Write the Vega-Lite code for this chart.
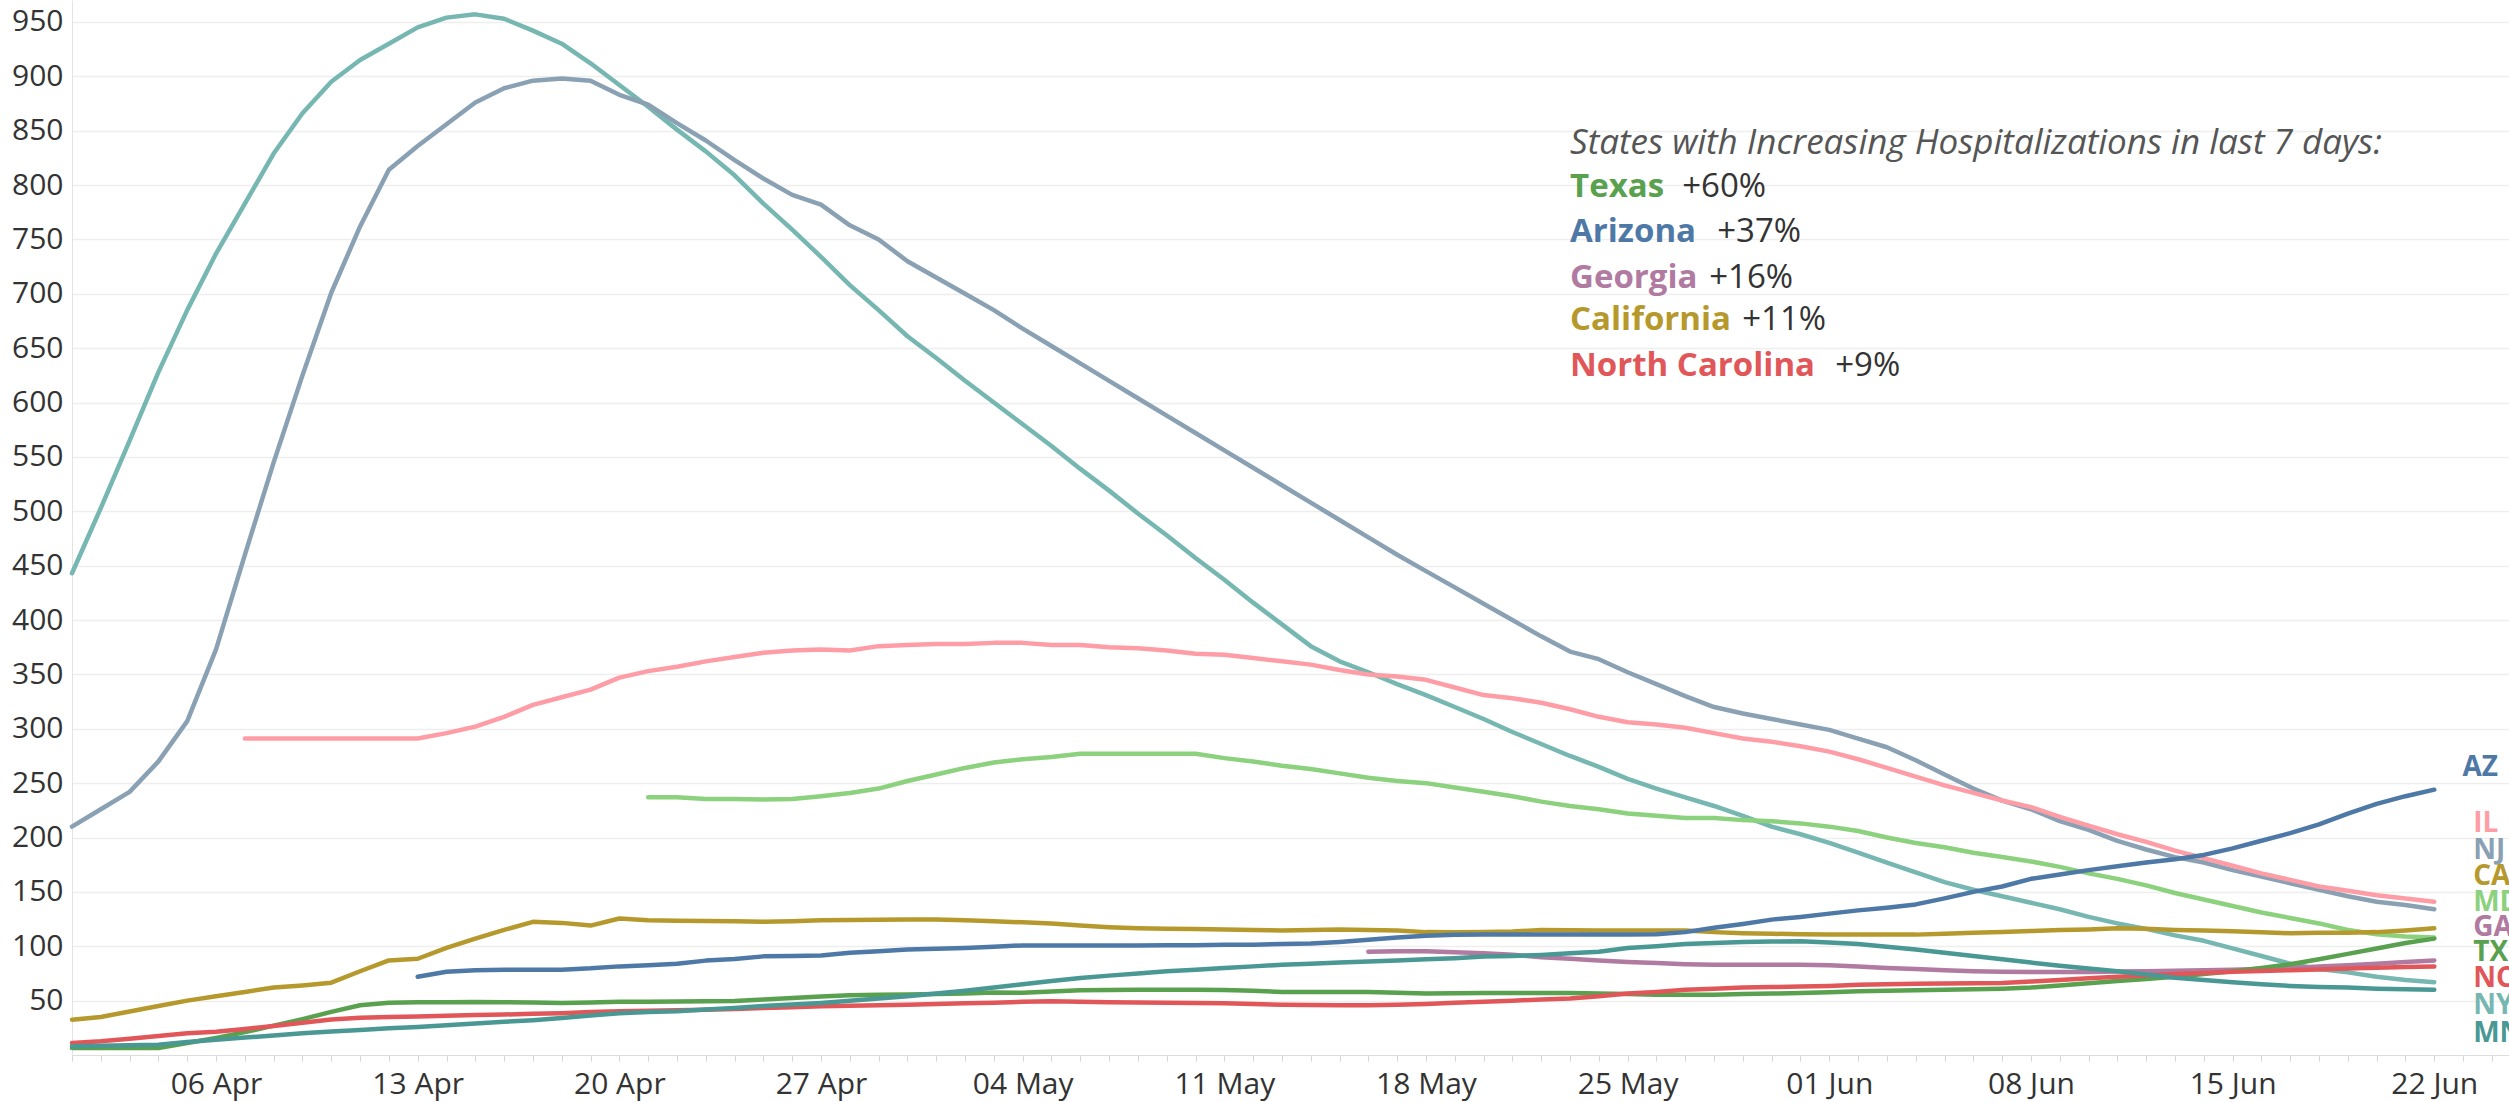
{
"$schema": "https://vega.github.io/schema/vega-lite/v6.json",
"width": 2437, "height": 1055,
"autosize": {"type": "none"},
"padding": {"left": 72, "top": 0, "right": 0, "bottom": 47},
"background": "white",
"config": {"view": {"stroke": null}, "font": "Open Sans"},
"datasets": {
"series": [
{"s":"NY","d":"2020/04/01","v":443},{"s":"NY","d":"2020/04/02","v":503},{"s":"NY","d":"2020/04/03","v":565},{"s":"NY","d":"2020/04/04","v":628},{"s":"NY","d":"2020/04/05","v":685},{"s":"NY","d":"2020/04/06","v":737},{"s":"NY","d":"2020/04/07","v":783},{"s":"NY","d":"2020/04/08","v":829},{"s":"NY","d":"2020/04/09","v":866},{"s":"NY","d":"2020/04/10","v":895},{"s":"NY","d":"2020/04/11","v":915},{"s":"NY","d":"2020/04/12","v":930},{"s":"NY","d":"2020/04/13","v":945},{"s":"NY","d":"2020/04/14","v":954},{"s":"NY","d":"2020/04/15","v":957},{"s":"NY","d":"2020/04/16","v":953},{"s":"NY","d":"2020/04/17","v":942},{"s":"NY","d":"2020/04/18","v":930},{"s":"NY","d":"2020/04/19","v":912},{"s":"NY","d":"2020/04/20","v":892},{"s":"NY","d":"2020/04/21","v":872},{"s":"NY","d":"2020/04/22","v":851},{"s":"NY","d":"2020/04/23","v":831},{"s":"NY","d":"2020/04/24","v":809},{"s":"NY","d":"2020/04/25","v":783},{"s":"NY","d":"2020/04/26","v":759},{"s":"NY","d":"2020/04/27","v":734},{"s":"NY","d":"2020/04/28","v":708},{"s":"NY","d":"2020/04/29","v":685},{"s":"NY","d":"2020/04/30","v":661},{"s":"NY","d":"2020/05/01","v":641},{"s":"NY","d":"2020/05/02","v":620},{"s":"NY","d":"2020/05/03","v":600},{"s":"NY","d":"2020/05/04","v":580},{"s":"NY","d":"2020/05/05","v":560},{"s":"NY","d":"2020/05/06","v":539},{"s":"NY","d":"2020/05/07","v":519},{"s":"NY","d":"2020/05/08","v":498},{"s":"NY","d":"2020/05/09","v":478},{"s":"NY","d":"2020/05/10","v":457},{"s":"NY","d":"2020/05/11","v":437},{"s":"NY","d":"2020/05/12","v":416},{"s":"NY","d":"2020/05/13","v":396},{"s":"NY","d":"2020/05/14","v":376},{"s":"NY","d":"2020/05/15","v":362},{"s":"NY","d":"2020/05/16","v":352},{"s":"NY","d":"2020/05/17","v":341},{"s":"NY","d":"2020/05/18","v":331},{"s":"NY","d":"2020/05/19","v":320},{"s":"NY","d":"2020/05/20","v":309},{"s":"NY","d":"2020/05/21","v":297},{"s":"NY","d":"2020/05/22","v":286},{"s":"NY","d":"2020/05/23","v":275},{"s":"NY","d":"2020/05/24","v":265},{"s":"NY","d":"2020/05/25","v":254},{"s":"NY","d":"2020/05/26","v":245},{"s":"NY","d":"2020/05/27","v":237},{"s":"NY","d":"2020/05/28","v":229},{"s":"NY","d":"2020/05/29","v":220},{"s":"NY","d":"2020/05/30","v":210},{"s":"NY","d":"2020/05/31","v":203},{"s":"NY","d":"2020/06/01","v":195},{"s":"NY","d":"2020/06/02","v":186},{"s":"NY","d":"2020/06/03","v":177},{"s":"NY","d":"2020/06/04","v":168},{"s":"NY","d":"2020/06/05","v":159},{"s":"NY","d":"2020/06/06","v":152},{"s":"NY","d":"2020/06/07","v":146},{"s":"NY","d":"2020/06/08","v":140},{"s":"NY","d":"2020/06/09","v":134},{"s":"NY","d":"2020/06/10","v":127},{"s":"NY","d":"2020/06/11","v":121},{"s":"NY","d":"2020/06/12","v":116},{"s":"NY","d":"2020/06/13","v":110},{"s":"NY","d":"2020/06/14","v":105},{"s":"NY","d":"2020/06/15","v":98},{"s":"NY","d":"2020/06/16","v":91},{"s":"NY","d":"2020/06/17","v":84},{"s":"NY","d":"2020/06/18","v":79},{"s":"NY","d":"2020/06/19","v":76},{"s":"NY","d":"2020/06/20","v":72},{"s":"NY","d":"2020/06/21","v":69},{"s":"NY","d":"2020/06/22","v":67},
{"s":"NJ","d":"2020/04/01","v":210},{"s":"NJ","d":"2020/04/02","v":226},{"s":"NJ","d":"2020/04/03","v":242},{"s":"NJ","d":"2020/04/04","v":270},{"s":"NJ","d":"2020/04/05","v":307},{"s":"NJ","d":"2020/04/06","v":373},{"s":"NJ","d":"2020/04/07","v":460},{"s":"NJ","d":"2020/04/08","v":545},{"s":"NJ","d":"2020/04/09","v":625},{"s":"NJ","d":"2020/04/10","v":701},{"s":"NJ","d":"2020/04/11","v":762},{"s":"NJ","d":"2020/04/12","v":814},{"s":"NJ","d":"2020/04/13","v":836},{"s":"NJ","d":"2020/04/14","v":856},{"s":"NJ","d":"2020/04/15","v":876},{"s":"NJ","d":"2020/04/16","v":889},{"s":"NJ","d":"2020/04/17","v":896},{"s":"NJ","d":"2020/04/18","v":898},{"s":"NJ","d":"2020/04/19","v":896},{"s":"NJ","d":"2020/04/20","v":883},{"s":"NJ","d":"2020/04/21","v":874},{"s":"NJ","d":"2020/04/22","v":857},{"s":"NJ","d":"2020/04/23","v":841},{"s":"NJ","d":"2020/04/24","v":823},{"s":"NJ","d":"2020/04/25","v":806},{"s":"NJ","d":"2020/04/26","v":791},{"s":"NJ","d":"2020/04/27","v":782},{"s":"NJ","d":"2020/04/28","v":763},{"s":"NJ","d":"2020/04/29","v":750},{"s":"NJ","d":"2020/04/30","v":730},{"s":"NJ","d":"2020/05/01","v":715},{"s":"NJ","d":"2020/05/02","v":700},{"s":"NJ","d":"2020/05/03","v":685},{"s":"NJ","d":"2020/05/04","v":668},{"s":"NJ","d":"2020/05/05","v":652},{"s":"NJ","d":"2020/05/06","v":636},{"s":"NJ","d":"2020/05/07","v":620},{"s":"NJ","d":"2020/05/08","v":604},{"s":"NJ","d":"2020/05/09","v":588},{"s":"NJ","d":"2020/05/10","v":572},{"s":"NJ","d":"2020/05/11","v":556},{"s":"NJ","d":"2020/05/12","v":540},{"s":"NJ","d":"2020/05/13","v":524},{"s":"NJ","d":"2020/05/14","v":508},{"s":"NJ","d":"2020/05/15","v":492},{"s":"NJ","d":"2020/05/16","v":476},{"s":"NJ","d":"2020/05/17","v":460},{"s":"NJ","d":"2020/05/18","v":445},{"s":"NJ","d":"2020/05/19","v":430},{"s":"NJ","d":"2020/05/20","v":415},{"s":"NJ","d":"2020/05/21","v":400},{"s":"NJ","d":"2020/05/22","v":385},{"s":"NJ","d":"2020/05/23","v":371},{"s":"NJ","d":"2020/05/24","v":364},{"s":"NJ","d":"2020/05/25","v":352},{"s":"NJ","d":"2020/05/26","v":341},{"s":"NJ","d":"2020/05/27","v":330},{"s":"NJ","d":"2020/05/28","v":320},{"s":"NJ","d":"2020/05/29","v":314},{"s":"NJ","d":"2020/05/30","v":309},{"s":"NJ","d":"2020/05/31","v":304},{"s":"NJ","d":"2020/06/01","v":299},{"s":"NJ","d":"2020/06/02","v":291},{"s":"NJ","d":"2020/06/03","v":283},{"s":"NJ","d":"2020/06/04","v":271},{"s":"NJ","d":"2020/06/05","v":258},{"s":"NJ","d":"2020/06/06","v":245},{"s":"NJ","d":"2020/06/07","v":234},{"s":"NJ","d":"2020/06/08","v":226},{"s":"NJ","d":"2020/06/09","v":215},{"s":"NJ","d":"2020/06/10","v":207},{"s":"NJ","d":"2020/06/11","v":197},{"s":"NJ","d":"2020/06/12","v":189},{"s":"NJ","d":"2020/06/13","v":182},{"s":"NJ","d":"2020/06/14","v":177},{"s":"NJ","d":"2020/06/15","v":170},{"s":"NJ","d":"2020/06/16","v":164},{"s":"NJ","d":"2020/06/17","v":158},{"s":"NJ","d":"2020/06/18","v":152},{"s":"NJ","d":"2020/06/19","v":146},{"s":"NJ","d":"2020/06/20","v":141},{"s":"NJ","d":"2020/06/21","v":138},{"s":"NJ","d":"2020/06/22","v":134},
{"s":"IL","d":"2020/04/07","v":291},{"s":"IL","d":"2020/04/08","v":291},{"s":"IL","d":"2020/04/09","v":291},{"s":"IL","d":"2020/04/10","v":291},{"s":"IL","d":"2020/04/11","v":291},{"s":"IL","d":"2020/04/12","v":291},{"s":"IL","d":"2020/04/13","v":291},{"s":"IL","d":"2020/04/14","v":296},{"s":"IL","d":"2020/04/15","v":302},{"s":"IL","d":"2020/04/16","v":311},{"s":"IL","d":"2020/04/17","v":322},{"s":"IL","d":"2020/04/18","v":329},{"s":"IL","d":"2020/04/19","v":336},{"s":"IL","d":"2020/04/20","v":347},{"s":"IL","d":"2020/04/21","v":353},{"s":"IL","d":"2020/04/22","v":357},{"s":"IL","d":"2020/04/23","v":362},{"s":"IL","d":"2020/04/24","v":366},{"s":"IL","d":"2020/04/25","v":370},{"s":"IL","d":"2020/04/26","v":372},{"s":"IL","d":"2020/04/27","v":373},{"s":"IL","d":"2020/04/28","v":372},{"s":"IL","d":"2020/04/29","v":376},{"s":"IL","d":"2020/04/30","v":377},{"s":"IL","d":"2020/05/01","v":378},{"s":"IL","d":"2020/05/02","v":378},{"s":"IL","d":"2020/05/03","v":379},{"s":"IL","d":"2020/05/04","v":379},{"s":"IL","d":"2020/05/05","v":377},{"s":"IL","d":"2020/05/06","v":377},{"s":"IL","d":"2020/05/07","v":375},{"s":"IL","d":"2020/05/08","v":374},{"s":"IL","d":"2020/05/09","v":372},{"s":"IL","d":"2020/05/10","v":369},{"s":"IL","d":"2020/05/11","v":368},{"s":"IL","d":"2020/05/12","v":365},{"s":"IL","d":"2020/05/13","v":362},{"s":"IL","d":"2020/05/14","v":359},{"s":"IL","d":"2020/05/15","v":354},{"s":"IL","d":"2020/05/16","v":350},{"s":"IL","d":"2020/05/17","v":348},{"s":"IL","d":"2020/05/18","v":345},{"s":"IL","d":"2020/05/19","v":338},{"s":"IL","d":"2020/05/20","v":331},{"s":"IL","d":"2020/05/21","v":328},{"s":"IL","d":"2020/05/22","v":324},{"s":"IL","d":"2020/05/23","v":318},{"s":"IL","d":"2020/05/24","v":311},{"s":"IL","d":"2020/05/25","v":306},{"s":"IL","d":"2020/05/26","v":304},{"s":"IL","d":"2020/05/27","v":301},{"s":"IL","d":"2020/05/28","v":296},{"s":"IL","d":"2020/05/29","v":291},{"s":"IL","d":"2020/05/30","v":288},{"s":"IL","d":"2020/05/31","v":284},{"s":"IL","d":"2020/06/01","v":279},{"s":"IL","d":"2020/06/02","v":272},{"s":"IL","d":"2020/06/03","v":264},{"s":"IL","d":"2020/06/04","v":256},{"s":"IL","d":"2020/06/05","v":248},{"s":"IL","d":"2020/06/06","v":241},{"s":"IL","d":"2020/06/07","v":234},{"s":"IL","d":"2020/06/08","v":228},{"s":"IL","d":"2020/06/09","v":219},{"s":"IL","d":"2020/06/10","v":211},{"s":"IL","d":"2020/06/11","v":203},{"s":"IL","d":"2020/06/12","v":196},{"s":"IL","d":"2020/06/13","v":188},{"s":"IL","d":"2020/06/14","v":181},{"s":"IL","d":"2020/06/15","v":174},{"s":"IL","d":"2020/06/16","v":167},{"s":"IL","d":"2020/06/17","v":161},{"s":"IL","d":"2020/06/18","v":155},{"s":"IL","d":"2020/06/19","v":151},{"s":"IL","d":"2020/06/20","v":147},{"s":"IL","d":"2020/06/21","v":144},{"s":"IL","d":"2020/06/22","v":141},
{"s":"MD","d":"2020/04/21","v":237},{"s":"MD","d":"2020/04/22","v":237},{"s":"MD","d":"2020/04/23","v":235.5},{"s":"MD","d":"2020/04/24","v":235.5},{"s":"MD","d":"2020/04/25","v":235},{"s":"MD","d":"2020/04/26","v":235.5},{"s":"MD","d":"2020/04/27","v":238},{"s":"MD","d":"2020/04/28","v":241},{"s":"MD","d":"2020/04/29","v":245},{"s":"MD","d":"2020/04/30","v":252},{"s":"MD","d":"2020/05/01","v":258},{"s":"MD","d":"2020/05/02","v":264},{"s":"MD","d":"2020/05/03","v":269},{"s":"MD","d":"2020/05/04","v":272},{"s":"MD","d":"2020/05/05","v":274},{"s":"MD","d":"2020/05/06","v":277},{"s":"MD","d":"2020/05/07","v":277},{"s":"MD","d":"2020/05/08","v":277},{"s":"MD","d":"2020/05/09","v":277},{"s":"MD","d":"2020/05/10","v":277},{"s":"MD","d":"2020/05/11","v":273},{"s":"MD","d":"2020/05/12","v":270},{"s":"MD","d":"2020/05/13","v":266},{"s":"MD","d":"2020/05/14","v":263},{"s":"MD","d":"2020/05/15","v":259},{"s":"MD","d":"2020/05/16","v":255},{"s":"MD","d":"2020/05/17","v":252},{"s":"MD","d":"2020/05/18","v":250},{"s":"MD","d":"2020/05/19","v":246},{"s":"MD","d":"2020/05/20","v":242},{"s":"MD","d":"2020/05/21","v":238},{"s":"MD","d":"2020/05/22","v":233},{"s":"MD","d":"2020/05/23","v":229},{"s":"MD","d":"2020/05/24","v":226},{"s":"MD","d":"2020/05/25","v":222},{"s":"MD","d":"2020/05/26","v":220},{"s":"MD","d":"2020/05/27","v":218},{"s":"MD","d":"2020/05/28","v":218},{"s":"MD","d":"2020/05/29","v":216},{"s":"MD","d":"2020/05/30","v":215},{"s":"MD","d":"2020/05/31","v":213},{"s":"MD","d":"2020/06/01","v":210},{"s":"MD","d":"2020/06/02","v":206},{"s":"MD","d":"2020/06/03","v":200},{"s":"MD","d":"2020/06/04","v":195},{"s":"MD","d":"2020/06/05","v":191},{"s":"MD","d":"2020/06/06","v":186},{"s":"MD","d":"2020/06/07","v":182},{"s":"MD","d":"2020/06/08","v":178},{"s":"MD","d":"2020/06/09","v":173},{"s":"MD","d":"2020/06/10","v":167},{"s":"MD","d":"2020/06/11","v":162},{"s":"MD","d":"2020/06/12","v":156},{"s":"MD","d":"2020/06/13","v":149},{"s":"MD","d":"2020/06/14","v":143},{"s":"MD","d":"2020/06/15","v":137},{"s":"MD","d":"2020/06/16","v":131},{"s":"MD","d":"2020/06/17","v":126},{"s":"MD","d":"2020/06/18","v":121},{"s":"MD","d":"2020/06/19","v":115},{"s":"MD","d":"2020/06/20","v":111},{"s":"MD","d":"2020/06/21","v":109},{"s":"MD","d":"2020/06/22","v":108},
{"s":"CA","d":"2020/04/01","v":32.5},{"s":"CA","d":"2020/04/02","v":35},{"s":"CA","d":"2020/04/03","v":40},{"s":"CA","d":"2020/04/04","v":45},{"s":"CA","d":"2020/04/05","v":50},{"s":"CA","d":"2020/04/06","v":54},{"s":"CA","d":"2020/04/07","v":58},{"s":"CA","d":"2020/04/08","v":62},{"s":"CA","d":"2020/04/09","v":64},{"s":"CA","d":"2020/04/10","v":66.5},{"s":"CA","d":"2020/04/11","v":77},{"s":"CA","d":"2020/04/12","v":87},{"s":"CA","d":"2020/04/13","v":88.5},{"s":"CA","d":"2020/04/14","v":98.5},{"s":"CA","d":"2020/04/15","v":107},{"s":"CA","d":"2020/04/16","v":115},{"s":"CA","d":"2020/04/17","v":122.5},{"s":"CA","d":"2020/04/18","v":121.5},{"s":"CA","d":"2020/04/19","v":119},{"s":"CA","d":"2020/04/20","v":125.5},{"s":"CA","d":"2020/04/21","v":124},{"s":"CA","d":"2020/04/22","v":123.5},{"s":"CA","d":"2020/04/23","v":123.3},{"s":"CA","d":"2020/04/24","v":123},{"s":"CA","d":"2020/04/25","v":122.5},{"s":"CA","d":"2020/04/26","v":123},{"s":"CA","d":"2020/04/27","v":124},{"s":"CA","d":"2020/04/28","v":124.2},{"s":"CA","d":"2020/04/29","v":124.4},{"s":"CA","d":"2020/04/30","v":124.5},{"s":"CA","d":"2020/05/01","v":124.5},{"s":"CA","d":"2020/05/02","v":124},{"s":"CA","d":"2020/05/03","v":123},{"s":"CA","d":"2020/05/04","v":122},{"s":"CA","d":"2020/05/05","v":121},{"s":"CA","d":"2020/05/06","v":119},{"s":"CA","d":"2020/05/07","v":117.5},{"s":"CA","d":"2020/05/08","v":116.5},{"s":"CA","d":"2020/05/09","v":116},{"s":"CA","d":"2020/05/10","v":115.8},{"s":"CA","d":"2020/05/11","v":115.5},{"s":"CA","d":"2020/05/12","v":115},{"s":"CA","d":"2020/05/13","v":114.5},{"s":"CA","d":"2020/05/14","v":115},{"s":"CA","d":"2020/05/15","v":115.5},{"s":"CA","d":"2020/05/16","v":115},{"s":"CA","d":"2020/05/17","v":114.5},{"s":"CA","d":"2020/05/18","v":113},{"s":"CA","d":"2020/05/19","v":112.8},{"s":"CA","d":"2020/05/20","v":113},{"s":"CA","d":"2020/05/21","v":113.5},{"s":"CA","d":"2020/05/22","v":115},{"s":"CA","d":"2020/05/23","v":114.8},{"s":"CA","d":"2020/05/24","v":114.5},{"s":"CA","d":"2020/05/25","v":114.5},{"s":"CA","d":"2020/05/26","v":114.5},{"s":"CA","d":"2020/05/27","v":114.5},{"s":"CA","d":"2020/05/28","v":113},{"s":"CA","d":"2020/05/29","v":112},{"s":"CA","d":"2020/05/30","v":111.5},{"s":"CA","d":"2020/05/31","v":111},{"s":"CA","d":"2020/06/01","v":110.8},{"s":"CA","d":"2020/06/02","v":110.7},{"s":"CA","d":"2020/06/03","v":110.7},{"s":"CA","d":"2020/06/04","v":110.7},{"s":"CA","d":"2020/06/05","v":111.5},{"s":"CA","d":"2020/06/06","v":112.5},{"s":"CA","d":"2020/06/07","v":113},{"s":"CA","d":"2020/06/08","v":114},{"s":"CA","d":"2020/06/09","v":115},{"s":"CA","d":"2020/06/10","v":115.5},{"s":"CA","d":"2020/06/11","v":116.5},{"s":"CA","d":"2020/06/12","v":116},{"s":"CA","d":"2020/06/13","v":115},{"s":"CA","d":"2020/06/14","v":114.5},{"s":"CA","d":"2020/06/15","v":113.7},{"s":"CA","d":"2020/06/16","v":112.8},{"s":"CA","d":"2020/06/17","v":112},{"s":"CA","d":"2020/06/18","v":112.5},{"s":"CA","d":"2020/06/19","v":112.5},{"s":"CA","d":"2020/06/20","v":113},{"s":"CA","d":"2020/06/21","v":114.5},{"s":"CA","d":"2020/06/22","v":116.5},
{"s":"AZ","d":"2020/04/13","v":72},{"s":"AZ","d":"2020/04/14","v":76.5},{"s":"AZ","d":"2020/04/15","v":78},{"s":"AZ","d":"2020/04/16","v":78.5},{"s":"AZ","d":"2020/04/17","v":78.5},{"s":"AZ","d":"2020/04/18","v":78.5},{"s":"AZ","d":"2020/04/19","v":79.7},{"s":"AZ","d":"2020/04/20","v":81.5},{"s":"AZ","d":"2020/04/21","v":82.5},{"s":"AZ","d":"2020/04/22","v":84},{"s":"AZ","d":"2020/04/23","v":86.8},{"s":"AZ","d":"2020/04/24","v":88.3},{"s":"AZ","d":"2020/04/25","v":90.7},{"s":"AZ","d":"2020/04/26","v":91},{"s":"AZ","d":"2020/04/27","v":91.4},{"s":"AZ","d":"2020/04/28","v":94},{"s":"AZ","d":"2020/04/29","v":95.5},{"s":"AZ","d":"2020/04/30","v":97},{"s":"AZ","d":"2020/05/01","v":97.8},{"s":"AZ","d":"2020/05/02","v":98.5},{"s":"AZ","d":"2020/05/03","v":99.5},{"s":"AZ","d":"2020/05/04","v":100.8},{"s":"AZ","d":"2020/05/05","v":100.8},{"s":"AZ","d":"2020/05/06","v":100.8},{"s":"AZ","d":"2020/05/07","v":100.8},{"s":"AZ","d":"2020/05/08","v":100.8},{"s":"AZ","d":"2020/05/09","v":101},{"s":"AZ","d":"2020/05/10","v":101},{"s":"AZ","d":"2020/05/11","v":101.5},{"s":"AZ","d":"2020/05/12","v":101.5},{"s":"AZ","d":"2020/05/13","v":102},{"s":"AZ","d":"2020/05/14","v":102.5},{"s":"AZ","d":"2020/05/15","v":104},{"s":"AZ","d":"2020/05/16","v":106},{"s":"AZ","d":"2020/05/17","v":108},{"s":"AZ","d":"2020/05/18","v":109.7},{"s":"AZ","d":"2020/05/19","v":110.5},{"s":"AZ","d":"2020/05/20","v":110.7},{"s":"AZ","d":"2020/05/21","v":110.7},{"s":"AZ","d":"2020/05/22","v":110.7},{"s":"AZ","d":"2020/05/23","v":110.7},{"s":"AZ","d":"2020/05/24","v":110.7},{"s":"AZ","d":"2020/05/25","v":110.7},{"s":"AZ","d":"2020/05/26","v":111},{"s":"AZ","d":"2020/05/27","v":113},{"s":"AZ","d":"2020/05/28","v":117},{"s":"AZ","d":"2020/05/29","v":120.5},{"s":"AZ","d":"2020/05/30","v":124.5},{"s":"AZ","d":"2020/05/31","v":127},{"s":"AZ","d":"2020/06/01","v":130},{"s":"AZ","d":"2020/06/02","v":133},{"s":"AZ","d":"2020/06/03","v":135.5},{"s":"AZ","d":"2020/06/04","v":138.5},{"s":"AZ","d":"2020/06/05","v":144},{"s":"AZ","d":"2020/06/06","v":150},{"s":"AZ","d":"2020/06/07","v":155},{"s":"AZ","d":"2020/06/08","v":162},{"s":"AZ","d":"2020/06/09","v":166},{"s":"AZ","d":"2020/06/10","v":170},{"s":"AZ","d":"2020/06/11","v":173.5},{"s":"AZ","d":"2020/06/12","v":177},{"s":"AZ","d":"2020/06/13","v":180},{"s":"AZ","d":"2020/06/14","v":184},{"s":"AZ","d":"2020/06/15","v":190},{"s":"AZ","d":"2020/06/16","v":197},{"s":"AZ","d":"2020/06/17","v":204},{"s":"AZ","d":"2020/06/18","v":212},{"s":"AZ","d":"2020/06/19","v":222},{"s":"AZ","d":"2020/06/20","v":231},{"s":"AZ","d":"2020/06/21","v":238},{"s":"AZ","d":"2020/06/22","v":244},
{"s":"GA","d":"2020/05/16","v":95},{"s":"GA","d":"2020/05/17","v":95.3},{"s":"GA","d":"2020/05/18","v":95.3},{"s":"GA","d":"2020/05/19","v":94.5},{"s":"GA","d":"2020/05/20","v":93.5},{"s":"GA","d":"2020/05/21","v":92.3},{"s":"GA","d":"2020/05/22","v":90},{"s":"GA","d":"2020/05/23","v":88.5},{"s":"GA","d":"2020/05/24","v":87},{"s":"GA","d":"2020/05/25","v":85.5},{"s":"GA","d":"2020/05/26","v":84.5},{"s":"GA","d":"2020/05/27","v":83.5},{"s":"GA","d":"2020/05/28","v":83},{"s":"GA","d":"2020/05/29","v":83},{"s":"GA","d":"2020/05/30","v":83},{"s":"GA","d":"2020/05/31","v":83},{"s":"GA","d":"2020/06/01","v":82.5},{"s":"GA","d":"2020/06/02","v":81.5},{"s":"GA","d":"2020/06/03","v":80},{"s":"GA","d":"2020/06/04","v":79},{"s":"GA","d":"2020/06/05","v":78},{"s":"GA","d":"2020/06/06","v":77},{"s":"GA","d":"2020/06/07","v":76.5},{"s":"GA","d":"2020/06/08","v":76.3},{"s":"GA","d":"2020/06/09","v":76.3},{"s":"GA","d":"2020/06/10","v":76.4},{"s":"GA","d":"2020/06/11","v":76.7},{"s":"GA","d":"2020/06/12","v":77},{"s":"GA","d":"2020/06/13","v":77.5},{"s":"GA","d":"2020/06/14","v":78},{"s":"GA","d":"2020/06/15","v":78.5},{"s":"GA","d":"2020/06/16","v":79},{"s":"GA","d":"2020/06/17","v":80},{"s":"GA","d":"2020/06/18","v":81.5},{"s":"GA","d":"2020/06/19","v":82.5},{"s":"GA","d":"2020/06/20","v":84},{"s":"GA","d":"2020/06/21","v":85.5},{"s":"GA","d":"2020/06/22","v":87},
{"s":"TX","d":"2020/04/01","v":6.5},{"s":"TX","d":"2020/04/02","v":6.5},{"s":"TX","d":"2020/04/03","v":6.5},{"s":"TX","d":"2020/04/04","v":6.5},{"s":"TX","d":"2020/04/05","v":11},{"s":"TX","d":"2020/04/06","v":15.7},{"s":"TX","d":"2020/04/07","v":21},{"s":"TX","d":"2020/04/08","v":27},{"s":"TX","d":"2020/04/09","v":33},{"s":"TX","d":"2020/04/10","v":39.6},{"s":"TX","d":"2020/04/11","v":45.7},{"s":"TX","d":"2020/04/12","v":48},{"s":"TX","d":"2020/04/13","v":48.5},{"s":"TX","d":"2020/04/14","v":48.5},{"s":"TX","d":"2020/04/15","v":48.8},{"s":"TX","d":"2020/04/16","v":48.5},{"s":"TX","d":"2020/04/17","v":48.2},{"s":"TX","d":"2020/04/18","v":47.9},{"s":"TX","d":"2020/04/19","v":48.3},{"s":"TX","d":"2020/04/20","v":49},{"s":"TX","d":"2020/04/21","v":49},{"s":"TX","d":"2020/04/22","v":49.2},{"s":"TX","d":"2020/04/23","v":49.4},{"s":"TX","d":"2020/04/24","v":49.6},{"s":"TX","d":"2020/04/25","v":51},{"s":"TX","d":"2020/04/26","v":52.5},{"s":"TX","d":"2020/04/27","v":53.7},{"s":"TX","d":"2020/04/28","v":55},{"s":"TX","d":"2020/04/29","v":55.3},{"s":"TX","d":"2020/04/30","v":55.6},{"s":"TX","d":"2020/05/01","v":56},{"s":"TX","d":"2020/05/02","v":56.5},{"s":"TX","d":"2020/05/03","v":57.5},{"s":"TX","d":"2020/05/04","v":57.3},{"s":"TX","d":"2020/05/05","v":58.5},{"s":"TX","d":"2020/05/06","v":59.5},{"s":"TX","d":"2020/05/07","v":59.8},{"s":"TX","d":"2020/05/08","v":60},{"s":"TX","d":"2020/05/09","v":60},{"s":"TX","d":"2020/05/10","v":60},{"s":"TX","d":"2020/05/11","v":59.8},{"s":"TX","d":"2020/05/12","v":59},{"s":"TX","d":"2020/05/13","v":58},{"s":"TX","d":"2020/05/14","v":58},{"s":"TX","d":"2020/05/15","v":58},{"s":"TX","d":"2020/05/16","v":58},{"s":"TX","d":"2020/05/17","v":57.3},{"s":"TX","d":"2020/05/18","v":56.6},{"s":"TX","d":"2020/05/19","v":56.8},{"s":"TX","d":"2020/05/20","v":57},{"s":"TX","d":"2020/05/21","v":57},{"s":"TX","d":"2020/05/22","v":57},{"s":"TX","d":"2020/05/23","v":57},{"s":"TX","d":"2020/05/24","v":56.5},{"s":"TX","d":"2020/05/25","v":56},{"s":"TX","d":"2020/05/26","v":55.5},{"s":"TX","d":"2020/05/27","v":55.5},{"s":"TX","d":"2020/05/28","v":55.5},{"s":"TX","d":"2020/05/29","v":56},{"s":"TX","d":"2020/05/30","v":56.5},{"s":"TX","d":"2020/05/31","v":57},{"s":"TX","d":"2020/06/01","v":57.8},{"s":"TX","d":"2020/06/02","v":58.6},{"s":"TX","d":"2020/06/03","v":59},{"s":"TX","d":"2020/06/04","v":59.5},{"s":"TX","d":"2020/06/05","v":60},{"s":"TX","d":"2020/06/06","v":60.5},{"s":"TX","d":"2020/06/07","v":61},{"s":"TX","d":"2020/06/08","v":62},{"s":"TX","d":"2020/06/09","v":64},{"s":"TX","d":"2020/06/10","v":66},{"s":"TX","d":"2020/06/11","v":68},{"s":"TX","d":"2020/06/12","v":70},{"s":"TX","d":"2020/06/13","v":72},{"s":"TX","d":"2020/06/14","v":74.5},{"s":"TX","d":"2020/06/15","v":77},{"s":"TX","d":"2020/06/16","v":80},{"s":"TX","d":"2020/06/17","v":83.5},{"s":"TX","d":"2020/06/18","v":88},{"s":"TX","d":"2020/06/19","v":93},{"s":"TX","d":"2020/06/20","v":98},{"s":"TX","d":"2020/06/21","v":103},{"s":"TX","d":"2020/06/22","v":107},
{"s":"NC","d":"2020/04/01","v":11},{"s":"NC","d":"2020/04/02","v":12.7},{"s":"NC","d":"2020/04/03","v":15},{"s":"NC","d":"2020/04/04","v":17.4},{"s":"NC","d":"2020/04/05","v":20},{"s":"NC","d":"2020/04/06","v":21.4},{"s":"NC","d":"2020/04/07","v":24},{"s":"NC","d":"2020/04/08","v":26.6},{"s":"NC","d":"2020/04/09","v":29.6},{"s":"NC","d":"2020/04/10","v":32.7},{"s":"NC","d":"2020/04/11","v":34.2},{"s":"NC","d":"2020/04/12","v":35},{"s":"NC","d":"2020/04/13","v":35.5},{"s":"NC","d":"2020/04/14","v":36},{"s":"NC","d":"2020/04/15","v":36.8},{"s":"NC","d":"2020/04/16","v":37.2},{"s":"NC","d":"2020/04/17","v":38},{"s":"NC","d":"2020/04/18","v":38.5},{"s":"NC","d":"2020/04/19","v":39.5},{"s":"NC","d":"2020/04/20","v":40.2},{"s":"NC","d":"2020/04/21","v":40.7},{"s":"NC","d":"2020/04/22","v":41.2},{"s":"NC","d":"2020/04/23","v":41.7},{"s":"NC","d":"2020/04/24","v":42.3},{"s":"NC","d":"2020/04/25","v":43.2},{"s":"NC","d":"2020/04/26","v":44},{"s":"NC","d":"2020/04/27","v":44.8},{"s":"NC","d":"2020/04/28","v":45.3},{"s":"NC","d":"2020/04/29","v":45.8},{"s":"NC","d":"2020/04/30","v":46.3},{"s":"NC","d":"2020/05/01","v":47},{"s":"NC","d":"2020/05/02","v":47.5},{"s":"NC","d":"2020/05/03","v":48},{"s":"NC","d":"2020/05/04","v":49},{"s":"NC","d":"2020/05/05","v":49.5},{"s":"NC","d":"2020/05/06","v":49},{"s":"NC","d":"2020/05/07","v":48.5},{"s":"NC","d":"2020/05/08","v":48.2},{"s":"NC","d":"2020/05/09","v":48},{"s":"NC","d":"2020/05/10","v":47.8},{"s":"NC","d":"2020/05/11","v":47.5},{"s":"NC","d":"2020/05/12","v":46.8},{"s":"NC","d":"2020/05/13","v":46.3},{"s":"NC","d":"2020/05/14","v":46},{"s":"NC","d":"2020/05/15","v":45.8},{"s":"NC","d":"2020/05/16","v":45.7},{"s":"NC","d":"2020/05/17","v":46.3},{"s":"NC","d":"2020/05/18","v":47},{"s":"NC","d":"2020/05/19","v":48},{"s":"NC","d":"2020/05/20","v":49},{"s":"NC","d":"2020/05/21","v":50},{"s":"NC","d":"2020/05/22","v":51},{"s":"NC","d":"2020/05/23","v":52},{"s":"NC","d":"2020/05/24","v":54},{"s":"NC","d":"2020/05/25","v":56.5},{"s":"NC","d":"2020/05/26","v":58},{"s":"NC","d":"2020/05/27","v":60},{"s":"NC","d":"2020/05/28","v":61},{"s":"NC","d":"2020/05/29","v":62},{"s":"NC","d":"2020/05/30","v":62.5},{"s":"NC","d":"2020/05/31","v":63},{"s":"NC","d":"2020/06/01","v":63.5},{"s":"NC","d":"2020/06/02","v":64.5},{"s":"NC","d":"2020/06/03","v":65},{"s":"NC","d":"2020/06/04","v":65.5},{"s":"NC","d":"2020/06/05","v":65.8},{"s":"NC","d":"2020/06/06","v":66},{"s":"NC","d":"2020/06/07","v":66.3},{"s":"NC","d":"2020/06/08","v":67.5},{"s":"NC","d":"2020/06/09","v":69},{"s":"NC","d":"2020/06/10","v":70.5},{"s":"NC","d":"2020/06/11","v":72},{"s":"NC","d":"2020/06/12","v":73.2},{"s":"NC","d":"2020/06/13","v":74.5},{"s":"NC","d":"2020/06/14","v":75.5},{"s":"NC","d":"2020/06/15","v":76.5},{"s":"NC","d":"2020/06/16","v":77.2},{"s":"NC","d":"2020/06/17","v":78},{"s":"NC","d":"2020/06/18","v":78.7},{"s":"NC","d":"2020/06/19","v":79.5},{"s":"NC","d":"2020/06/20","v":80.2},{"s":"NC","d":"2020/06/21","v":81},{"s":"NC","d":"2020/06/22","v":81.5},
{"s":"MN","d":"2020/04/01","v":8},{"s":"MN","d":"2020/04/02","v":8.5},{"s":"MN","d":"2020/04/03","v":9},{"s":"MN","d":"2020/04/04","v":9.5},{"s":"MN","d":"2020/04/05","v":12},{"s":"MN","d":"2020/04/06","v":14},{"s":"MN","d":"2020/04/07","v":16},{"s":"MN","d":"2020/04/08","v":18},{"s":"MN","d":"2020/04/09","v":20},{"s":"MN","d":"2020/04/10","v":21.5},{"s":"MN","d":"2020/04/11","v":23},{"s":"MN","d":"2020/04/12","v":24.5},{"s":"MN","d":"2020/04/13","v":25.8},{"s":"MN","d":"2020/04/14","v":27.3},{"s":"MN","d":"2020/04/15","v":29},{"s":"MN","d":"2020/04/16","v":30.5},{"s":"MN","d":"2020/04/17","v":32},{"s":"MN","d":"2020/04/18","v":34},{"s":"MN","d":"2020/04/19","v":36.3},{"s":"MN","d":"2020/04/20","v":38.5},{"s":"MN","d":"2020/04/21","v":39.5},{"s":"MN","d":"2020/04/22","v":40.2},{"s":"MN","d":"2020/04/23","v":41.8},{"s":"MN","d":"2020/04/24","v":43.3},{"s":"MN","d":"2020/04/25","v":45},{"s":"MN","d":"2020/04/26","v":46.5},{"s":"MN","d":"2020/04/27","v":47.9},{"s":"MN","d":"2020/04/28","v":49.8},{"s":"MN","d":"2020/04/29","v":52},{"s":"MN","d":"2020/04/30","v":54},{"s":"MN","d":"2020/05/01","v":56.5},{"s":"MN","d":"2020/05/02","v":59},{"s":"MN","d":"2020/05/03","v":62},{"s":"MN","d":"2020/05/04","v":65},{"s":"MN","d":"2020/05/05","v":68},{"s":"MN","d":"2020/05/06","v":70.9},{"s":"MN","d":"2020/05/07","v":73},{"s":"MN","d":"2020/05/08","v":75},{"s":"MN","d":"2020/05/09","v":77},{"s":"MN","d":"2020/05/10","v":78.5},{"s":"MN","d":"2020/05/11","v":80},{"s":"MN","d":"2020/05/12","v":81.5},{"s":"MN","d":"2020/05/13","v":83},{"s":"MN","d":"2020/05/14","v":84},{"s":"MN","d":"2020/05/15","v":85},{"s":"MN","d":"2020/05/16","v":86},{"s":"MN","d":"2020/05/17","v":87},{"s":"MN","d":"2020/05/18","v":88},{"s":"MN","d":"2020/05/19","v":89},{"s":"MN","d":"2020/05/20","v":90.5},{"s":"MN","d":"2020/05/21","v":91},{"s":"MN","d":"2020/05/22","v":92},{"s":"MN","d":"2020/05/23","v":93.5},{"s":"MN","d":"2020/05/24","v":95},{"s":"MN","d":"2020/05/25","v":98.4},{"s":"MN","d":"2020/05/26","v":100},{"s":"MN","d":"2020/05/27","v":102},{"s":"MN","d":"2020/05/28","v":103},{"s":"MN","d":"2020/05/29","v":104},{"s":"MN","d":"2020/05/30","v":104.3},{"s":"MN","d":"2020/05/31","v":104.5},{"s":"MN","d":"2020/06/01","v":103.5},{"s":"MN","d":"2020/06/02","v":102},{"s":"MN","d":"2020/06/03","v":99.5},{"s":"MN","d":"2020/06/04","v":97},{"s":"MN","d":"2020/06/05","v":94},{"s":"MN","d":"2020/06/06","v":91},{"s":"MN","d":"2020/06/07","v":88},{"s":"MN","d":"2020/06/08","v":85},{"s":"MN","d":"2020/06/09","v":82},{"s":"MN","d":"2020/06/10","v":79.5},{"s":"MN","d":"2020/06/11","v":77},{"s":"MN","d":"2020/06/12","v":74},{"s":"MN","d":"2020/06/13","v":71},{"s":"MN","d":"2020/06/14","v":69},{"s":"MN","d":"2020/06/15","v":67},{"s":"MN","d":"2020/06/16","v":65},{"s":"MN","d":"2020/06/17","v":63.5},{"s":"MN","d":"2020/06/18","v":62.5},{"s":"MN","d":"2020/06/19","v":62},{"s":"MN","d":"2020/06/20","v":61},{"s":"MN","d":"2020/06/21","v":60.5},{"s":"MN","d":"2020/06/22","v":60}
],
"endlabels": [
{"s":"AZ","d":"2020/06/22 23:30","v":264},
{"s":"IL","d":"2020/06/23 08:24","v":212},
{"s":"NJ","d":"2020/06/23 08:24","v":188},
{"s":"CA","d":"2020/06/23 08:24","v":164},
{"s":"MD","d":"2020/06/23 08:24","v":140},
{"s":"GA","d":"2020/06/23 08:24","v":117},
{"s":"TX","d":"2020/06/23 08:24","v":94},
{"s":"NC","d":"2020/06/23 08:24","v":70},
{"s":"NY","d":"2020/06/23 08:24","v":45},
{"s":"MN","d":"2020/06/23 08:24","v":19}
],
"heading": [
{"t":"States with Increasing Hospitalizations in last 7 days:","d":"2020/05/23","v":839}
],
"notes": [
{"s":"TX","name":"Texas","pct":"+60%","d":"2020/05/23","pd":"2020/05/26 21:27","v":798},
{"s":"AZ","name":"Arizona","pct":"+37%","d":"2020/05/23","pd":"2020/05/28 02:37","v":757},
{"s":"GA","name":"Georgia","pct":"+16%","d":"2020/05/23","pd":"2020/05/27 19:57","v":715},
{"s":"CA","name":"California","pct":"+11%","d":"2020/05/23","pd":"2020/05/28 23:27","v":676},
{"s":"NC","name":"North Carolina","pct":"+9%","d":"2020/05/23","pd":"2020/06/01 04:55","v":634}
]
},
"layer": [
{
"data": {"name": "series"},
"mark": {"type": "line", "strokeWidth": 4.5, "strokeCap": "round", "strokeJoin": "round"},
"encoding": {
"x": {"field": "d", "type": "temporal",
 "scale": {"domain": [{"year": 2020, "month": 4, "date": 1}, {"year": 2020, "month": 6, "date": 24, "hours": 14, "minutes": 15}]},
 "axis": {"title": null, "grid": false, "tickCount": {"interval": "day", "step": 1},
  "labelExpr": "day(datum.value) == 1 ? timeFormat(datum.value, '%d %b') : ''",
  "labelOverlap": false, "labelFlush": false, "labelBound": false,
  "labelFontSize": 30, "labelColor": "#333333", "labelFont": "Open Sans",
  "tickColor": "#d6d6d6", "tickSize": 6, "tickWidth": 1,
  "domainColor": "#dddddd", "domainWidth": 1, "labelPadding": 8}},
"y": {"field": "v", "type": "quantitative",
 "scale": {"domain": [0, 970.2], "nice": false, "zero": true},
 "axis": {"title": null, "values": [50,100,150,200,250,300,350,400,450,500,550,600,650,700,750,800,850,900,950],
  "grid": true, "gridColor": "#eeeeee", "gridWidth": 1.5, "ticks": false, "tickSize": 0,
  "labelFontSize": 30, "labelColor": "#333333", "labelFont": "Open Sans", "labelPadding": 9,
  "domainColor": "#e3e3e3", "domainWidth": 1}},
"color": {"field": "s", "type": "nominal",
 "scale": {"domain": ["NY","NJ","IL","MD","CA","AZ","GA","TX","NC","MN"],
  "range": ["#76b7b2","#8aa1b4","#ff9da7","#8cd17d","#b6992d","#4e79a7","#b07aa1","#59a14f","#e15759","#499894"]},
 "legend": null}
}
},
{
"data": {"name": "endlabels"},
"mark": {"type": "text", "align": "left", "baseline": "middle", "fontSize": 28, "fontWeight": "bold", "font": "Open Sans"},
"encoding": {
"x": {"field": "d", "type": "temporal"},
"y": {"field": "v", "type": "quantitative"},
"text": {"field": "s"},
"color": {"field": "s", "type": "nominal", "legend": null}
}
},
{
"data": {"name": "heading"},
"mark": {"type": "text", "align": "left", "baseline": "middle", "fontSize": 35, "fontStyle": "italic", "font": "Open Sans", "color": "#555555"},
"encoding": {
"x": {"field": "d", "type": "temporal"},
"y": {"field": "v", "type": "quantitative"},
"text": {"field": "t"}
}
},
{
"data": {"name": "notes"},
"mark": {"type": "text", "align": "left", "baseline": "middle", "fontSize": 33, "fontWeight": "bold", "font": "Open Sans"},
"encoding": {
"x": {"field": "d", "type": "temporal"},
"y": {"field": "v", "type": "quantitative"},
"text": {"field": "name"},
"color": {"field": "s", "type": "nominal", "legend": null}
}
},
{
"data": {"name": "notes"},
"mark": {"type": "text", "align": "left", "baseline": "middle", "fontSize": 33, "font": "Open Sans", "color": "#333333"},
"encoding": {
"x": {"field": "pd", "type": "temporal"},
"y": {"field": "v", "type": "quantitative"},
"text": {"field": "pct"}
}
}
]
}
